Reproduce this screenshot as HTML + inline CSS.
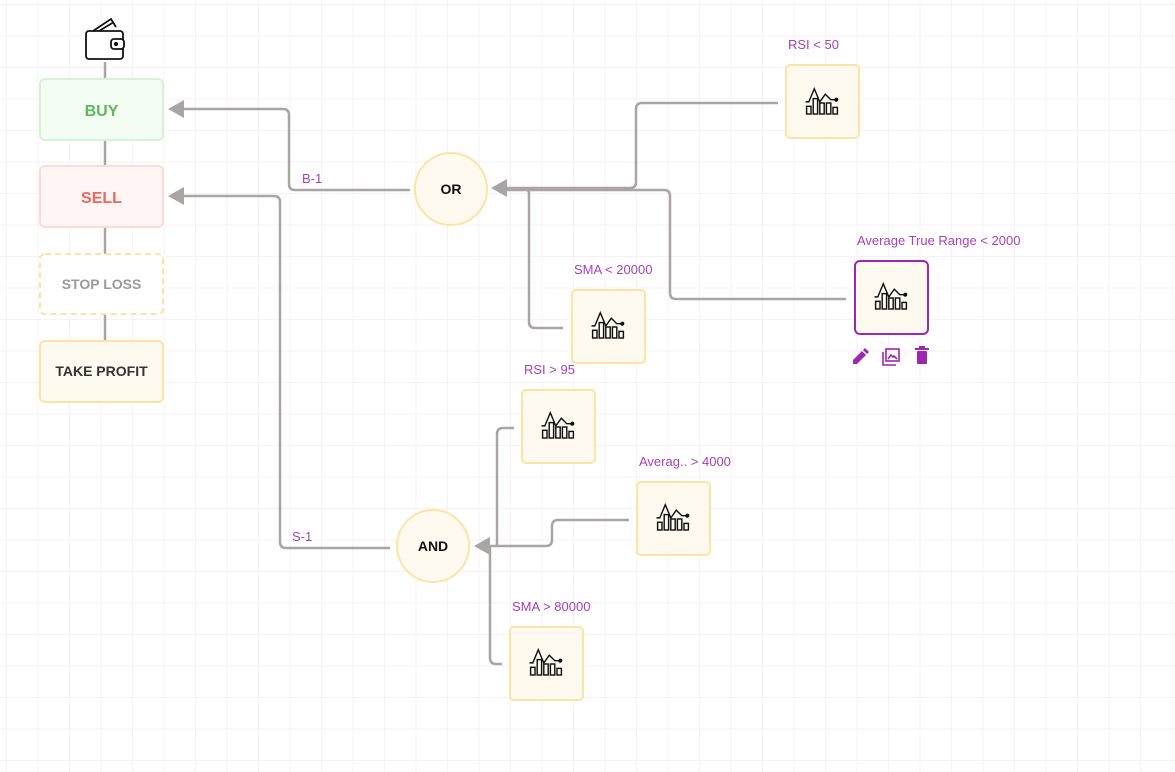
<!DOCTYPE html>
<html><head><meta charset="utf-8"><style>
html,body{margin:0;padding:0}
body{width:1175px;height:772px;overflow:hidden;background-color:#fff;
background-image:linear-gradient(#f4f2f5 1px,transparent 1px),linear-gradient(90deg,#f4f2f5 1px,transparent 1px);
background-size:31.5px 31.5px;background-position:6px 4px;font-family:"Liberation Sans",sans-serif}
svg{position:absolute;left:0;top:0}
.lbl{font-family:"Liberation Sans",sans-serif;font-size:13px;fill:#a640b8}
.nt{font-family:"Liberation Sans",sans-serif;font-weight:bold;text-anchor:middle}
</style></head><body>
<svg width="1175" height="772" viewBox="0 0 1175 772">
<defs>
<g id="ic" fill="none" stroke="#111" stroke-width="1.3" transform="scale(1.1)">
<rect x="-14" y="3" width="4" height="7"/><rect x="-8" y="-4" width="4" height="14"/><rect x="-2" y="0" width="4" height="10"/><rect x="4" y="0" width="4" height="10"/><rect x="10" y="4" width="4" height="6"/>
<polyline points="-15,-1 -12,-1 -7,-13 -2,-1 3,-8 8,-3 12,-3"/><circle cx="13" cy="-3" r="1.2" fill="#111"/>
</g>
</defs>
<line x1="105" y1="62" x2="105" y2="341" stroke="#a9a5a5" stroke-width="2.5"/>
<g fill="none" stroke="#111" stroke-width="1.8">
<rect x="86" y="31" width="37" height="28" rx="3" fill="#fff"/>
<path d="M93 31 L111 19 L116 27 M99 31 L114 22"/>
<rect x="111" y="39" width="13" height="10" rx="3" fill="#fff"/>
<circle cx="116" cy="44" r="1.2" fill="#111"/>
</g>
<rect x="40" y="79" width="123" height="61" rx="5" fill="#f3fdf3" stroke="#d6f3d6" stroke-width="2"/>
<text class="nt" x="101.5" y="116" font-size="16" fill="#5cb85c">BUY</text>
<rect x="40" y="166" width="123" height="61" rx="5" fill="#fff5f4" stroke="#fbdcd8" stroke-width="2"/>
<text class="nt" x="101.5" y="203" font-size="16" fill="#e8685f">SELL</text>
<rect x="40" y="254" width="123" height="60" rx="5" fill="#fff" stroke="#fde4a4" stroke-width="2" stroke-dasharray="6,4"/>
<text class="nt" x="101.5" y="289" font-size="14" fill="#9a9a9a">STOP LOSS</text>
<rect x="40" y="341" width="123" height="61" rx="5" fill="#fffaf0" stroke="#fde4a4" stroke-width="2"/>
<text class="nt" x="101.5" y="376" font-size="14" fill="#333">TAKE PROFIT</text>
<g fill="none" stroke="#a9a5a5" stroke-width="2.5">
<path d="M410 190 H295 Q289 190 289 184 V115 Q289 109 283 109 H182"/>
<path d="M390 548 H286 Q280 548 280 542 V202 Q280 196 274 196 H182"/>
<path d="M778 103 H642 Q636 103 636 109 V182 Q636 188 630 188 H505"/>
<path d="M563 328 H535 Q529 328 529 322 V194 Q529 188 523 188"/>
<path d="M846 299 H676 Q670 299 670 293 V196 Q670 190 664 190 H505"/>
<path d="M514 428 H503 Q497 428 497 434 V546"/>
<path d="M629 520 H558 Q552 520 552 526 V540 Q552 546 546 546 H488"/>
<path d="M502 664 H496 Q490 664 490 658 V546"/>
</g>
<g fill="#a9a5a5">
<polygon points="168,109 184,100 184,118"/>
<polygon points="168,196 184,187 184,205"/>
<polygon points="491,188 507,179 507,197"/>
<polygon points="474,546 490,537 490,555"/>
</g>
<text class="lbl" x="302" y="183">B-1</text>
<text class="lbl" x="292" y="541">S-1</text>
<circle cx="451" cy="189" r="36" fill="#fffaf0" stroke="#fde4a4" stroke-width="2"/>
<text class="nt" x="451" y="194" font-size="14" fill="#111">OR</text>
<circle cx="433" cy="546" r="36" fill="#fffaf0" stroke="#fde4a4" stroke-width="2"/>
<text class="nt" x="433" y="551" font-size="14" fill="#111">AND</text>
<g fill="#fffaf0" stroke="#fde4a4" stroke-width="2">
<rect x="786" y="65" width="73" height="73" rx="4"/>
<rect x="572" y="290" width="73" height="73" rx="4"/>
<rect x="522" y="390" width="73" height="73" rx="4"/>
<rect x="637" y="482" width="73" height="73" rx="4"/>
<rect x="510" y="627" width="73" height="73" rx="4"/>
</g>
<rect x="855" y="261" width="73" height="73" rx="5" fill="#fffaf0" stroke="#9c27b0" stroke-width="2"/>
<use href="#ic" x="822" y="103"/>
<use href="#ic" x="608" y="327"/>
<use href="#ic" x="558" y="427"/>
<use href="#ic" x="673" y="519"/>
<use href="#ic" x="546" y="664"/>
<use href="#ic" x="891" y="298"/>
<text class="lbl" x="788" y="49">RSI &lt; 50</text>
<text class="lbl" x="574" y="274">SMA &lt; 20000</text>
<text class="lbl" x="857" y="245">Average True Range &lt; 2000</text>
<text class="lbl" x="524" y="374">RSI &gt; 95</text>
<text class="lbl" x="639" y="466">Averag.. &gt; 4000</text>
<text class="lbl" x="512" y="611">SMA &gt; 80000</text>
<g fill="#9c27b0">
<path d="M853 364 L853 360 L862 351 L866 355 L857 364 Z"/><path d="M863 350 L865 348 L869 352 L867 354 Z"/>
<rect x="917" y="351" width="10" height="13" rx="1"/><rect x="915" y="348" width="14" height="2"/><rect x="919" y="346" width="6" height="2"/>
</g>
<g fill="none" stroke="#9c27b0" stroke-width="1.6">
<rect x="886" y="349" width="13" height="12"/><path d="M883 352 V365 H896"/>
<path d="M888 359 L891 355 L893 357 L894 356 L897 359"/>
</g>
</svg>
</body></html>
